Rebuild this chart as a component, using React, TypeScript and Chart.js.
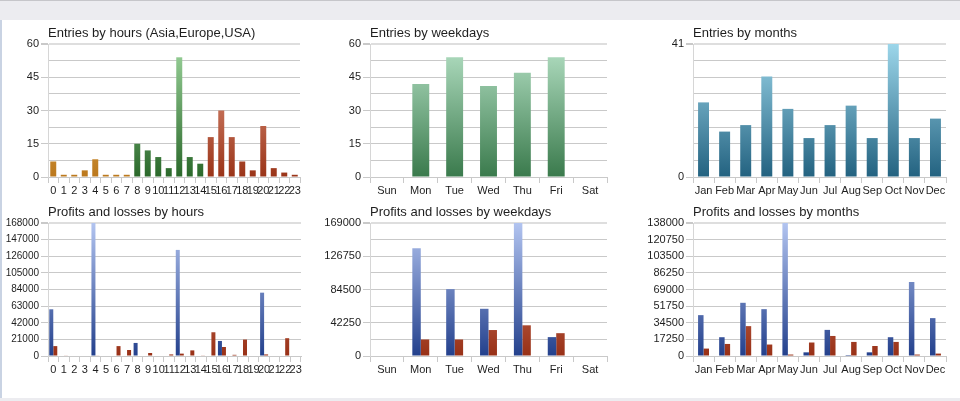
import React, { useEffect, useRef } from 'react';
import { Chart, registerables } from 'chart.js';

Chart.register(...registerables);

// ---------- data ----------
const hourLabels = ['0', '1', '2', '3', '4', '5', '6', '7', '8', '9', '10', '11', '12', '13', '14', '15', '16', '17', '18', '19', '20', '21', '22', '23'];
const hourRegion = ['Asia', 'Asia', 'Asia', 'Asia', 'Asia', 'Asia', 'Asia', 'Asia', 'Europe', 'Europe', 'Europe', 'Europe', 'Europe', 'Europe', 'Europe', 'USA', 'USA', 'USA', 'USA', 'USA', 'USA', 'USA', 'USA', 'USA'];
const hourEntries = [7, 1, 1, 3, 8, 1, 1, 1, 15, 12, 9, 4, 54, 9, 6, 18, 30, 18, 7, 3, 23, 4, 2, 1];
const hourProfits = [59000, 0, 0, 0, 168000, 0, 0, 0, 16500, 0, 0, 0, 134000, 0, 0, 0, 19000, 0, 0, 0, 80000, 0, 0, 0];
const hourLosses = [12500, 500, 0, 0, 500, 0, 12500, 7600, 0, 3800, 600, 2000, 3000, 7100, 800, 30000, 11400, 1500, 20800, 600, 2000, 0, 22500, 0];

const weekdayLabels = ['Sun', 'Mon', 'Tue', 'Wed', 'Thu', 'Fri', 'Sat'];
const weekdayEntries = [0, 42, 54, 41, 47, 54, 0];
const weekdayProfits = [0, 137000, 85000, 60000, 169000, 24000, 0];
const weekdayLosses = [0, 21000, 21000, 33000, 39000, 29000, 0];

const monthLabels = ['Jan', 'Feb', 'Mar', 'Apr', 'May', 'Jun', 'Jul', 'Aug', 'Sep', 'Oct', 'Nov', 'Dec'];
const monthEntries = [23, 14, 16, 31, 21, 12, 16, 22, 12, 41, 12, 18];
const monthProfits = [42400, 19500, 55200, 48600, 138000, 3800, 27100, 1000, 3800, 19500, 76800, 39300];
const monthLosses = [7700, 12500, 31000, 11900, 1500, 14000, 20800, 14600, 10400, 14600, 1500, 2500];

// axis maxima (top tick labels) and tick steps
const hourEntryAxis = [60, 7.5];
const weekdayEntryAxis = [60, 7.5];
const monthEntryAxis = [41, 5.125];
const hourMoneyAxis = [168000, 21000];
const weekdayMoneyAxis = [169000, 21125];
const monthMoneyAxis = [138000, 17250];

const FONT = "'Liberation Sans', Arial, sans-serif";
const TEXT = '#1e1e1e';
const GRID = '#c9c9c9';

function vgrad(bottom: string, top: string) {
  return (ctx: any) => {
    const chart = ctx.chart;
    const a = chart.chartArea;
    if (!a) return bottom;
    const g = chart.ctx.createLinearGradient(0, a.bottom, 0, a.top);
    g.addColorStop(0, bottom);
    g.addColorStop(1, top);
    return g;
  };
}

const regionColors: Record<string, [string, string]> = {
  Asia: ['#bb781c', '#f4cc80'],
  Europe: ['#2a682a', '#9cd49c'],
  USA: ['#9a3418', '#eaa48e'],
};

const profitColor = vgrad('#23408c', '#b2c4f0');
const lossColor = vgrad('#983016', '#e2947e');

interface PanelCfg {
  title: string;
  labels: string[];
  datasets: any[];
  axis: number[];
  labelEvery: number;
  yWidth: number;
  yFont: number;
  catPct: number;
}

function buildConfig(c: PanelCfg): any {
  const nTicks = Math.round(c.axis[0] / c.axis[1]);
  return {
    type: 'bar',
    data: { labels: c.labels, datasets: c.datasets },
    options: {
      responsive: false,
      animation: false,
      events: [],
      layout: { padding: { left: 0, right: 10, top: 0, bottom: 0 } },
      datasets: { bar: { categoryPercentage: c.catPct, barPercentage: 1, borderWidth: 0 } },
      plugins: {
        legend: { display: false },
        tooltip: { enabled: false },
        title: {
          display: true,
          text: c.title,
          align: 'start',
          fullSize: false,
          color: TEXT,
          font: { size: 13, family: FONT, weight: 'normal' },
          padding: { top: 6, bottom: 2.4 },
        },
      },
      scales: {
        x: {
          type: 'category',
          offset: true,
          grid: { display: true, offset: true, drawOnChartArea: false, drawTicks: true, tickLength: 6, color: GRID, tickColor: GRID },
          border: { display: true, color: GRID },
          ticks: { autoSkip: false, maxRotation: 0, minRotation: 0, padding: 1, color: TEXT, font: { size: 11, family: FONT } },
          afterFit: (s: any) => { s.height = 20; },
        },
        y: {
          min: 0,
          max: c.axis[0],
          ticks: {
            stepSize: c.axis[1],
            padding: 2,
            color: TEXT,
            font: { size: c.yFont, family: FONT },
            callback: (v: any, i: number) => (i % c.labelEvery === 0 ? String(v) : ''),
          },
          grid: {
            color: (ctx: any) => (ctx.index === nTicks ? '#dedede' : GRID),
            lineWidth: (ctx: any) => (ctx.index === nTicks ? 2 : 1),
            tickLength: 7,
            tickColor: (ctx: any) => (ctx.index % c.labelEvery === 0 ? GRID : 'rgba(0,0,0,0)'),
          },
          border: { display: true, color: '#d6d6d6' },
          afterFit: (s: any) => { s.width = c.yWidth; },
        },
      },
    },
  };
}

function Panel({ left, top, width, height, cfg }: { left: number; top: number; width: number; height: number; cfg: PanelCfg }) {
  const ref = useRef<HTMLCanvasElement>(null);
  useEffect(() => {
    const chart = new Chart(ref.current as HTMLCanvasElement, buildConfig(cfg));
    return () => chart.destroy();
  }, []);
  return (
    <div style={{ position: 'absolute', left, top, width, height }}>
      <canvas ref={ref} width={width} height={height} style={{ display: 'block' }} />
    </div>
  );
}

const hourEntryColor = (ctx: any) => {
  const r = hourRegion[ctx.dataIndex] || 'Asia';
  const [b, t] = regionColors[r];
  return vgrad(b, t)(ctx);
};

export default function App() {
  const H = 177;
  return (
    <div style={{ position: 'absolute', left: 0, top: 0, width: 960, height: 401, background: '#ffffff', overflow: 'hidden' }}>
      <div style={{ position: 'absolute', left: 0, top: 0, width: 960, height: 20, background: '#ececf0', borderTop: '1px solid #c6c6ca', boxSizing: 'border-box' }} />
      <div style={{ position: 'absolute', left: 0, top: 20, width: 2, height: 378, background: '#c9d3e3' }} />
      <div style={{ position: 'absolute', left: 0, top: 398, width: 960, height: 3, background: '#ececf0' }} />

      <Panel left={0} top={20} width={310} height={H} cfg={{
        title: 'Entries by hours (Asia,Europe,USA)', labels: hourLabels,
        datasets: [{ label: 'Entries', data: hourEntries, backgroundColor: hourEntryColor }],
        axis: hourEntryAxis, labelEvery: 2, yWidth: 48, yFont: 11, catPct: 0.57,
      }} />
      <Panel left={320} top={20} width={297} height={H} cfg={{
        title: 'Entries by weekdays', labels: weekdayLabels,
        datasets: [{ label: 'Entries', data: weekdayEntries, backgroundColor: vgrad('#3a7a4c', '#b4e0c4') }],
        axis: weekdayEntryAxis, labelEvery: 2, yWidth: 50, yFont: 11, catPct: 0.5,
      }} />
      <Panel left={640} top={20} width={316} height={H} cfg={{
        title: 'Entries by months', labels: monthLabels,
        datasets: [{ label: 'Entries', data: monthEntries, backgroundColor: vgrad('#236280', '#9cd6ea') }],
        axis: monthEntryAxis, labelEvery: 8, yWidth: 53, yFont: 11, catPct: 0.52,
      }} />

      <Panel left={0} top={199} width={311} height={H} cfg={{
        title: 'Profits and losses by hours', labels: hourLabels,
        datasets: [
          { label: 'Profits', data: hourProfits, backgroundColor: profitColor },
          { label: 'Losses', data: hourLosses, backgroundColor: lossColor },
        ],
        axis: hourMoneyAxis, labelEvery: 1, yWidth: 48, yFont: 10, catPct: 0.76,
      }} />
      <Panel left={320} top={199} width={297} height={H} cfg={{
        title: 'Profits and losses by weekdays', labels: weekdayLabels,
        datasets: [
          { label: 'Profits', data: weekdayProfits, backgroundColor: profitColor },
          { label: 'Losses', data: weekdayLosses, backgroundColor: lossColor },
        ],
        axis: weekdayMoneyAxis, labelEvery: 2, yWidth: 50, yFont: 11, catPct: 0.5,
      }} />
      <Panel left={640} top={199} width={316} height={H} cfg={{
        title: 'Profits and losses by months', labels: monthLabels,
        datasets: [
          { label: 'Profits', data: monthProfits, backgroundColor: profitColor },
          { label: 'Losses', data: monthLosses, backgroundColor: lossColor },
        ],
        axis: monthMoneyAxis, labelEvery: 1, yWidth: 53, yFont: 11, catPct: 0.52,
      }} />
    </div>
  );
}
